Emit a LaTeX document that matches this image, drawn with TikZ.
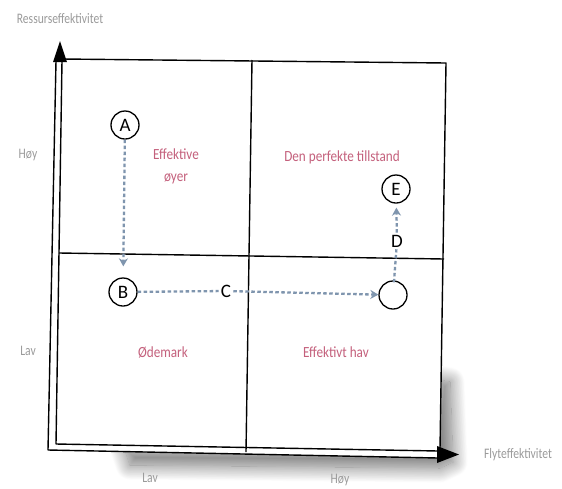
\documentclass[tikz,border=0pt]{standalone}
\usepackage{fontspec}
\setmainfont{Carlito}
\newfontfamily\axfont[FakeStretch=0.8]{Carlito}
\newfontfamily\zonefont[FakeStretch=0.85]{Carlito}
\usetikzlibrary{arrows.meta,shadows.blur}
\definecolor{axgray}{HTML}{9A9A9A}
\definecolor{rose}{HTML}{C4607C}
\definecolor{flow}{HTML}{7F95AE}
\begin{document}
\begin{tikzpicture}[x=1pt,y=-1pt,
  frame/.style={line width=1.4pt, black, line join=round},
  axislabel/.style={text=axgray, font=\axfont\fontsize{14.5}{14.5}\selectfont, inner sep=0pt},
  zone/.style={text=rose, font=\zonefont\fontsize{15.5}{22}\selectfont, align=center, inner sep=0pt},
  state/.style={circle, draw=black, line width=1.3pt, minimum size=28pt, inner sep=0pt, font=\fontsize{19}{19}\selectfont},
  steplabel/.style={font=\fontsize{19}{19}\selectfont, inner sep=2pt},
  flowline/.style={draw=flow, line width=2.3pt, dash pattern=on 3.5pt off 2.5pt},
  flowarrow/.style={flowline, -{Stealth[length=8pt,width=9pt]}}
]
\useasboundingbox (0,0) rectangle (562,488);
% soft shadow under the sheet
\path[blur shadow={shadow xshift=0pt, shadow yshift=0pt, shadow blur radius=15pt, shadow blur steps=24, shadow opacity=55}]
  (125,450) -- (428,450) -- (440,380) -- (450,382) -- (453,462) -- (440,468) -- (130,465) -- cycle;
\fill[white] (56,61) -- (446,63) -- (440,458) -- (48,450) -- cycle;
% axes (double lines)
\draw[frame] (56,61) -- (48,450) -- (438,458);
\draw[frame] (62,61) -- (56,444) -- (438,451);
\fill (60,41) -- (67,62) -- (53,62) -- cycle;
\fill (459,454.5) -- (437,446) -- (437,463) -- cycle;
% frame of the matrix
\draw[frame] (62,59) -- (446,63) -- (440,449);
\draw[frame] (252,60) -- (246,452);
\draw[frame] (59,253) -- (444,259);
% axis labels
\node[axislabel] (ytitle) at (60,19) {Ressurseffektivitet};
\node[axislabel] (xtitle) at (518,455) {Flyteffektivitet};
\node[axislabel] (yhigh) at (28,155) {Høy};
\node[axislabel] (ylow) at (28,351) {Lav};
\node[axislabel] (xlow) at (150,478) {Lav};
\node[axislabel] (xhigh) at (340,480) {Høy};
% quadrant labels
\node[zone] (q1) at (176,166) {Effektive\\øyer};
\node[zone] (q2) at (342,157) {Den perfekte tillstand};
\node[zone] (q3) at (163,352) {Ødemark};
\node[zone] (q4) at (336,352) {Effektivt hav};
% states
\node[state] (A) at (125,125) {A};
\node[state] (B) at (123,292) {B};
\node[state] (X) at (393,295) {};
\node[state] (E) at (396,189) {E};
\node[steplabel] (C) at (226,291) {C};
\node[steplabel] (D) at (397,241) {D};
% transitions
\draw[flowarrow, shorten >=11pt] (A) -- (B);
\draw[flowline] (B) -- (C);
\draw[flowarrow] (C) -- (X);
\draw[flowline, shorten <=-2pt] (X) -- (D);
\draw[flowarrow, shorten >=4pt] (D) -- (E);
\end{tikzpicture}
\end{document}
